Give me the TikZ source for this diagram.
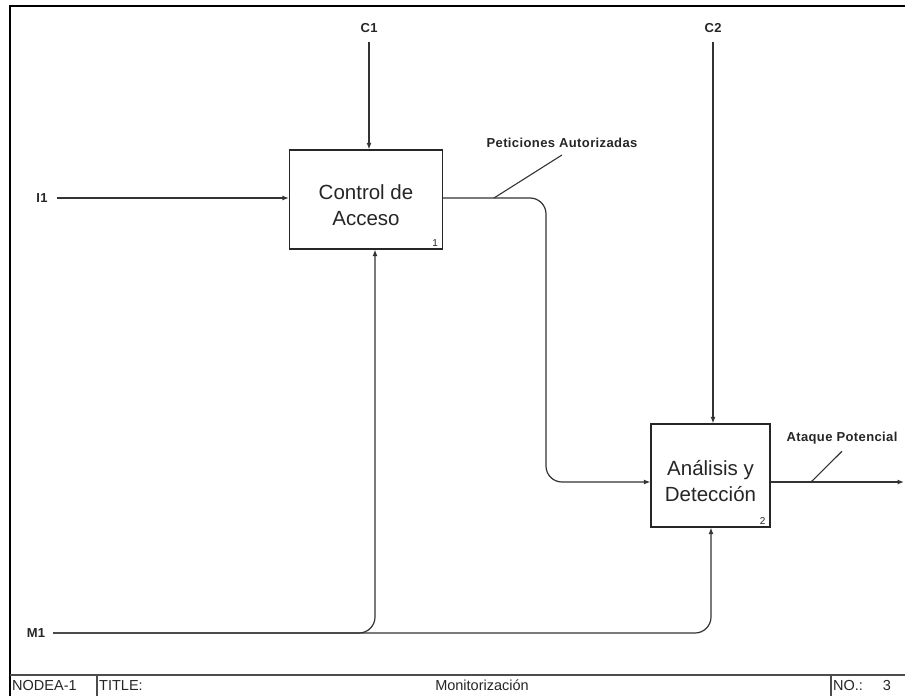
\documentclass[tikz,border=0pt]{standalone}
\usepackage{fontspec}
\setmainfont{Liberation Sans}
\usetikzlibrary{arrows.meta}
\begin{document}
\begin{tikzpicture}[x=1pt,y=-1pt,
  flow/.style={draw=black!80, line width=1.2pt, -{Latex[length=6.5pt,width=5pt]}},
  lead/.style={draw=black!80, line width=1.1pt},
  act/.style={draw=black!85, line width=1.3pt, align=center, inner sep=0pt,
    font=\fontsize{20.5}{25.5}\selectfont, text=black!85},
  lab/.style={font=\fontsize{13}{15}\selectfont\bfseries\addfontfeature{LetterSpace=3}, text=black!85, inner sep=0pt},
  bar/.style={font=\fontsize{14.5}{16}\selectfont, text=black!85, inner sep=0pt, anchor=base west},
  num/.style={font=\fontsize{10}{11}\selectfont, text=black!85, inner sep=0pt, anchor=south east},
  rc/.style={rounded corners=16pt}
]
\useasboundingbox (0,0) rectangle (905,696);
\fill[white] (0,0) rectangle (905,696);

% sheet frame and title strip
\draw[line width=2.2pt] (10,696) -- (10,6) -- (905,6);
\draw[line width=1.5pt, black!70] (10,675) -- (905,675);
\draw[line width=1.2pt, black!70] (97,675) -- (97,696);
\draw[line width=1.2pt, black!70] (831,675) -- (831,696);
\node[bar] (nodeid) at (12,690) {NODEA-1};
\node[bar] (ttl) at (99,690) {TITLE:};
\node[bar, anchor=base] (ttlname) at (482,690) {Monitorización};
\node[bar] (nolab) at (833,690) {NO.:};
\node[bar, anchor=base] (noval) at (887,690) {3};

% activities
\node[act, minimum width=153pt, minimum height=99pt] (a1) at (366,199.5)
  {\rule{0pt}{26pt}Control de\\Acceso};
\node[num] (n1) at ([xshift=-5pt,yshift=3pt]a1.south east) {1};
\node[act, minimum width=119pt, minimum height=103pt] (a2) at (710.5,475.5)
  {\rule{0pt}{26pt}Análisis y\\Detección};
\node[num] (n2) at ([xshift=-5pt,yshift=3pt]a2.south east) {2};

% boundary labels
\node[lab] (c1) at (369,28) {C1};
\node[lab] (c2) at (713,28) {C2};
\node[lab] (i1) at (42,198) {I1};
\node[lab] (m1) at (36,633) {M1};

% controls
\draw[flow] (c1) ++(0,14) -- (c1 |- a1.north);
\draw[flow] (c2) ++(0,14) -- (c2 |- a2.north);

% input
\draw[flow] (i1) ++(15,0) -- (a1.west |- i1);

% mechanism branches
\draw[flow, rc] (m1) ++(17,0) -| ([xshift=9pt]a1.south);
\draw[flow, rc] (m1) ++(17,0) -| ([xshift=0.5pt]a2.south);

% internal flow and output
\coordinate (mid) at (546,482);
\coordinate (out) at (904,482);
\draw[flow, rc] (a1.east |- i1) -| (mid) -- (a2.west |- mid);
\draw[flow] (a2.east |- mid) -- (out);

% arrow labels with leaders
\node[lab] (pa) at (562,143) {Peticiones Autorizadas};
\coordinate (tick1) at (494,198);
\draw[lead] ([yshift=-7pt]pa.south) -- (tick1);
\node[lab] (ap) at (842,438) {Ataque Potencial};
\coordinate (tick2) at (811,482);
\draw[lead] ([yshift=-7pt]ap.south) -- (tick2);
\end{tikzpicture}
\end{document}
